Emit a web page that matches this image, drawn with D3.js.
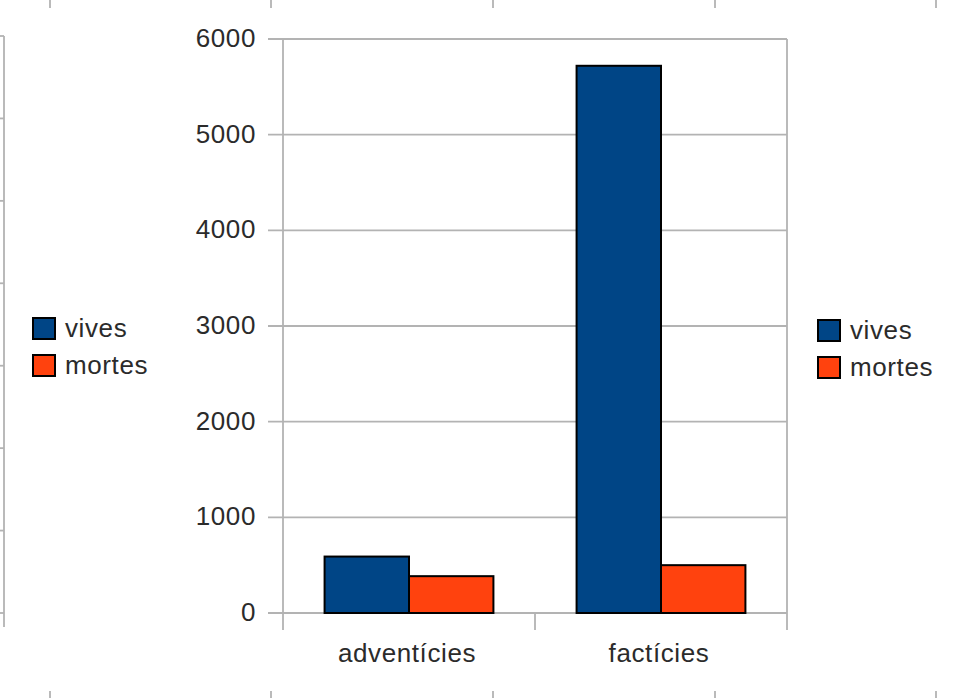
<!DOCTYPE html>
<meta charset="utf-8">
<style>
body {
  margin: 0;
  background: #fff;
  font-family: 'Liberation Sans', Arial, sans-serif;
}
svg {
  display: block;
}
.grid line, .frame {
  stroke: #b3b3b3;
  stroke-width: 1.8;
  fill: none;
}
.lbl {
  font-size: 26px;
  letter-spacing: 0.6px;
  fill: #2b2b2b;
}
.bar {
  stroke: #000;
  stroke-width: 2;
}
</style>
<body>
<div id="chart"></div>
<script src="https://cdn.jsdelivr.net/npm/d3@7"></script>
<script>
var categories = ['adventícies', 'factícies'];
var series = ['vives', 'mortes'];
var vives = [590, 5720];
var mortes = [385, 500];
var yTicks = [0, 1000, 2000, 3000, 4000, 5000, 6000];
var colors = ['#004586', '#ff420e'];

var W = 957, H = 698;
var plotL = 283, plotR = 787, plotT = 39, plotB = 613;

var svg = d3.select('#chart')
            .append('svg')
            .attr('width', W)
            .attr('height', H);

var y = d3.scaleLinear().domain([0, 6000]).range([plotB, plotT]);
var x0 = d3.scaleBand().domain(categories).range([plotL, plotR]);
var x1 = d3.scaleBand().domain(series)
           .range([x0.bandwidth() * 0.165, x0.bandwidth() * 0.835]);

// bits of the neighbouring charts cut off by the screenshot
var edgeX = [50, 271, 493, 715, 936];
var sideScale = d3.scaleLinear().domain([0, 7]).range([36, 613]);
var edge = svg.append('g').attr('class', 'grid');
edge.selectAll('.top').data(edgeX).enter().append('line')
    .attr('x1', d => d).attr('x2', d => d).attr('y1', 0).attr('y2', 8);
edge.selectAll('.bot').data(edgeX).enter().append('line')
    .attr('x1', d => d).attr('x2', d => d).attr('y1', 691).attr('y2', H);
edge.append('line').attr('x1', 4).attr('x2', 4).attr('y1', 36).attr('y2', 627);
edge.selectAll('.side').data(d3.range(8)).enter().append('line')
    .attr('x1', 0).attr('x2', 4)
    .attr('y1', d => sideScale(d)).attr('y2', d => sideScale(d));

// grid + y ticks
var grid = svg.append('g').attr('class', 'grid');
grid.selectAll('line').data(yTicks).enter().append('line')
    .attr('x1', plotL - 15).attr('x2', plotR)
    .attr('y1', d => y(d)).attr('y2', d => y(d));

svg.append('line').attr('class', 'frame')
   .attr('x1', plotL).attr('x2', plotL).attr('y1', plotT).attr('y2', plotB + 17);
svg.append('line').attr('class', 'frame')
   .attr('x1', plotR).attr('x2', plotR).attr('y1', plotT).attr('y2', plotB + 17);
svg.append('line').attr('class', 'frame')
   .attr('x1', x0(categories[1])).attr('x2', x0(categories[1]))
   .attr('y1', plotB).attr('y2', plotB + 17);

svg.selectAll('.ylbl').data(yTicks).enter().append('text')
   .attr('class', 'lbl')
   .attr('x', 256)
   .attr('y', d => y(d) - 1)
   .attr('text-anchor', 'end')
   .attr('dominant-baseline', 'central')
   .text(d => d);

// bars
var values = [vives, mortes];
series.forEach(function(s, j) {
  svg.selectAll('.bar-' + s).data(categories).enter().append('rect')
     .attr('class', 'bar')
     .attr('x', d => x0(d) + x1(s))
     .attr('width', x1.bandwidth())
     .attr('y', (d, i) => y(values[j][i]))
     .attr('height', (d, i) => plotB - y(values[j][i]))
     .attr('fill', colors[j]);
});

svg.selectAll('.xlbl').data(categories).enter().append('text')
   .attr('class', 'lbl')
   .attr('x', d => x0(d) + x0.bandwidth() / 2 - 2)
   .attr('y', 662)
   .attr('text-anchor', 'middle')
   .text(d => d);

// two legends, one each side
[[33, 318], [818, 320]].forEach(function(p) {
  var lg = svg.append('g').attr('transform', 'translate(' + p[0] + ',' + p[1] + ')');
  series.forEach(function(s, j) {
    lg.append('rect').attr('class', 'bar')
      .attr('x', 0).attr('y', j * 37)
      .attr('width', 22).attr('height', 21)
      .attr('fill', colors[j]);
    lg.append('text').attr('class', 'lbl')
      .attr('x', 32).attr('y', j * 37 + 19)
      .text(s);
  });
});
</script>
</body>
